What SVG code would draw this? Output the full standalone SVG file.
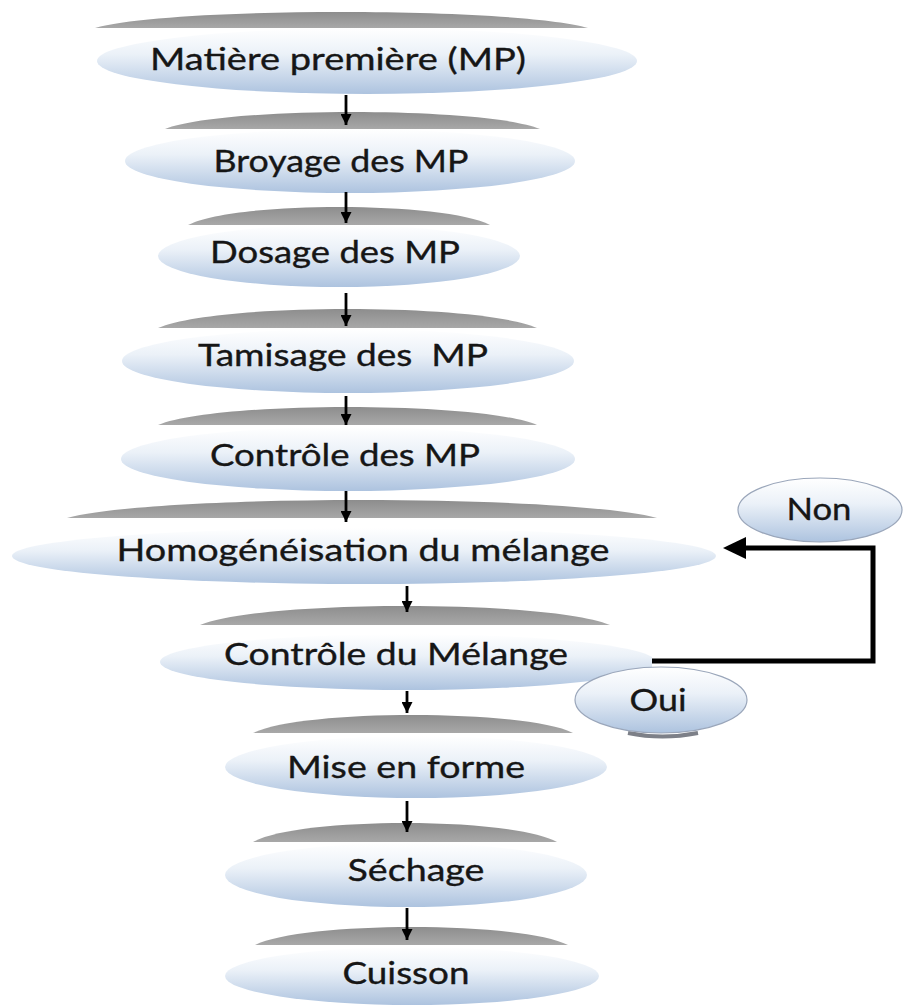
<svg xmlns="http://www.w3.org/2000/svg" width="903" height="1006" viewBox="0 0 903 1006">
<defs>
<linearGradient id="gBlue" x1="0" y1="0" x2="0" y2="1">
<stop offset="0" stop-color="#ffffff"/>
<stop offset="0.4" stop-color="#ebf1f8"/>
<stop offset="1" stop-color="#adc3df"/>
</linearGradient>
<linearGradient id="gCap" x1="0" y1="0" x2="0" y2="1">
<stop offset="0" stop-color="#8d8d8d"/>
<stop offset="1" stop-color="#a8a8a8"/>
</linearGradient>
<marker id="ah" viewBox="0 0 10 10" refX="10" refY="5" markerWidth="12" markerHeight="11" markerUnits="userSpaceOnUse" orient="auto">
<path d="M0,0 L10,5 L0,10 Z" fill="#000"/>
</marker>
<clipPath id="cutCM"><rect x="0" y="600" width="652" height="120"/></clipPath>
</defs>
<style>
.cap{fill:url(#gCap)}
.body{fill:url(#gBlue)}
.small{fill:url(#gBlue);stroke:#9aa6ba;stroke-width:1.2}
.lbl{font-family:Lato,"Open Sans","Liberation Sans",sans-serif;font-size:31px;fill:#161616;stroke:#161616;stroke-width:0.35;text-anchor:middle}
.arr{stroke:#000;stroke-width:2.8;fill:none;marker-end:url(#ah)}
.fb{stroke:#000;stroke-width:5;fill:none}
</style>
<rect width="903" height="1006" fill="#ffffff"/>

<g id="node-matiere">
<path class="cap" d="M95,28 C169,6.7 514,6.7 588,28 Z"/>
<ellipse class="body" cx="367" cy="61" rx="270" ry="33"/>
<text class="lbl" x="338" y="70" textLength="376" lengthAdjust="spacingAndGlyphs">Matière première (MP)</text>
</g>

<g id="node-broyage">
<path class="cap" d="M165,129 C221,106.4 484,106.4 540,129 Z"/>
<ellipse class="body" cx="350" cy="161" rx="225" ry="32"/>
<text class="lbl" x="341" y="172" textLength="255" lengthAdjust="spacingAndGlyphs">Broyage des MP</text>
</g>

<g id="node-dosage">
<path class="cap" d="M188,225 C233,201 445,201 490,225 Z"/>
<ellipse class="body" cx="339" cy="256" rx="181" ry="31"/>
<text class="lbl" x="335" y="263" textLength="250" lengthAdjust="spacingAndGlyphs">Dosage des MP</text>
</g>

<g id="node-tamisage">
<path class="cap" d="M158,328 C215,302.7 480,302.7 537,328 Z"/>
<ellipse class="body" cx="348" cy="361" rx="226" ry="32"/>
<text class="lbl" x="343" y="366" textLength="290" lengthAdjust="spacingAndGlyphs" xml:space="preserve">Tamisage des  MP</text>
</g>

<g id="node-controle-mp">
<path class="cap" d="M158,425 C215,401 480,401 537,425 Z"/>
<ellipse class="body" cx="348" cy="459" rx="227" ry="32"/>
<text class="lbl" x="345" y="466" textLength="270" lengthAdjust="spacingAndGlyphs">Contrôle des MP</text>
</g>

<g id="node-homogeneisation">
<path class="cap" d="M67,518 C155.5,494 568.5,494 657,518 Z"/>
<ellipse class="body" cx="364" cy="556" rx="352" ry="28"/>
<text class="lbl" x="363" y="561" textLength="493" lengthAdjust="spacingAndGlyphs">Homogénéisation du mélange</text>
</g>

<g id="node-controle-melange">
<path class="cap" d="M200,625 C261.5,599.7 548.5,599.7 610,625 Z"/>
<ellipse class="body" cx="408" cy="662" rx="248" ry="28" clip-path="url(#cutCM)"/>
<text class="lbl" x="396" y="665" textLength="344" lengthAdjust="spacingAndGlyphs">Contrôle du Mélange</text>
</g>

<g id="node-non">
<ellipse class="small" cx="820" cy="510" rx="82" ry="32"/>
<text class="lbl" x="819" y="520" textLength="65" lengthAdjust="spacingAndGlyphs">Non</text>
</g>

<g id="node-oui">
<path d="M628,733 Q662,740 698,733" stroke="#7d8088" stroke-width="4" fill="none"/>
<ellipse class="small" cx="661" cy="700" rx="86" ry="33"/>
<text class="lbl" x="658" y="711" textLength="57" lengthAdjust="spacingAndGlyphs">Oui</text>
</g>

<g id="node-mise-en-forme">
<path class="cap" d="M253,733 C301,709 525,709 573,733 Z"/>
<ellipse class="body" cx="416" cy="767" rx="191" ry="31"/>
<text class="lbl" x="406" y="778" textLength="238" lengthAdjust="spacingAndGlyphs">Mise en forme</text>
</g>

<g id="node-sechage">
<path class="cap" d="M253,842 C298.6,816.7 511.4,816.7 557,842 Z"/>
<ellipse class="body" cx="406" cy="875" rx="181" ry="32"/>
<text class="lbl" x="416" y="881" textLength="137" lengthAdjust="spacingAndGlyphs">Séchage</text>
</g>

<g id="node-cuisson">
<path class="cap" d="M255,945 C302,921 521,921 568,945 Z"/>
<ellipse class="body" cx="412" cy="976" rx="187" ry="29"/>
<text class="lbl" x="406" y="984" textLength="127" lengthAdjust="spacingAndGlyphs">Cuisson</text>
</g>

<g id="connectors">
<line class="arr" x1="346" y1="95" x2="346" y2="125"/>
<line class="arr" x1="346" y1="192" x2="346" y2="223"/>
<line class="arr" x1="346" y1="293" x2="346" y2="326"/>
<line class="arr" x1="346" y1="396" x2="346" y2="425"/>
<line class="arr" x1="346" y1="491" x2="346" y2="522"/>
<line class="arr" x1="407" y1="586" x2="407" y2="612"/>
<line class="arr" x1="407" y1="691" x2="407" y2="713"/>
<line class="arr" x1="407" y1="801" x2="407" y2="832"/>
<line class="arr" x1="407" y1="908" x2="407" y2="940"/>
<polyline class="fb" points="652,661 873,661 873,548 742,548"/>
<path d="M723,548 L746,537 L746,559 Z" fill="#000"/>
</g>
</svg>
